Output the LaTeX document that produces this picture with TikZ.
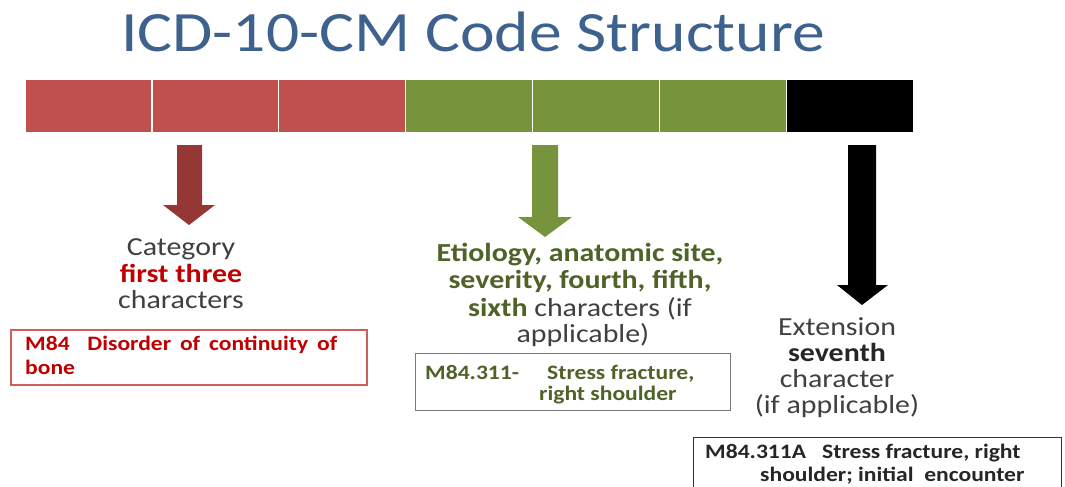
\documentclass[tikz,border=0pt]{standalone}
\usepackage{fontspec}
\setmainfont{Carlito}[FakeStretch=1.15]
\definecolor{titleblue}{RGB}{62,98,142}
\definecolor{cellred}{RGB}{192,80,77}
\definecolor{cellgreen}{RGB}{119,147,60}
\definecolor{arrowred}{RGB}{149,55,53}
\definecolor{txtgray}{RGB}{64,64,64}
\definecolor{txtred}{RGB}{192,0,0}
\definecolor{txtgreen}{RGB}{79,98,40}
\definecolor{boxred}{RGB}{205,95,95}
\definecolor{boxgray}{RGB}{120,120,120}
\tikzset{
  cell/.style={draw=white, line width=1.2pt, minimum width=126.9pt, minimum height=53pt, inner sep=0pt, outer sep=0pt},
  big/.style={anchor=base, inner sep=0pt, font=\fontsize{26}{27}\selectfont},
  small/.style={anchor=base west, inner sep=0pt, font=\fontsize{20.5}{22}\selectfont\bfseries},
}
\begin{document}
\begin{tikzpicture}[x=1pt,y=-1pt]
\useasboundingbox (0,0) rectangle (1065,487);
\fill[white] (0,0) rectangle (1065,487);
% title
\node[anchor=base, inner sep=0pt, text=titleblue, font=\fontsize{57}{60}\selectfont] (title) at (473,52) {ICD-10-CM Code Structure};
% bar cells
\foreach \i/\c in {1/cellred,2/cellred,3/cellred,4/cellgreen,5/cellgreen,6/cellgreen,7/black}{
  \node[cell, fill=\c] (c\i) at ({25+126.9*(\i-0.5)},106) {};
}
% block arrows
\fill[arrowred] (177,145) -- (202,145) -- (202,205) -- (215,205) -- (189,225) -- (163,205) -- (177,205) -- cycle;
\fill[cellgreen] (532,145) -- (558,145) -- (558,217) -- (572,217) -- (545,237) -- (518,217) -- (532,217) -- cycle;
\fill[black] (848,145) -- (876,145) -- (876,285) -- (888,285) -- (862,305) -- (837,285) -- (848,285) -- cycle;
% category text
\node[big, text=txtgray] (cat1) at (181,255) {Category};
\node[big, text=txtred, font=\fontsize{26}{27}\selectfont\bfseries] (cat2) at (181,282) {first three};
\node[big, text=txtgray] (cat3) at (181,308) {characters};
% etiology text
\node[big, text=txtgreen, font=\fontsize{26}{27}\selectfont\bfseries] (et1) at (580,261) {Etiology, anatomic site,};
\node[big, text=txtgreen, font=\fontsize{26}{27}\selectfont\bfseries] (et2) at (580,288) {severity, fourth, fifth,};
\node[big, text=txtgray] (et3) at (580,316) {\textcolor{txtgreen}{\bfseries sixth} characters (if};
\node[big, text=txtgray] (et4) at (583,342) {applicable)};
% extension text
\node[big, text=txtgray] (ex1) at (837,335) {Extension};
\node[big, text=black!85, font=\fontsize{26}{27}\selectfont\bfseries] (ex2) at (837,361) {seventh};
\node[big, text=txtgray] (ex3) at (837,387) {character};
\node[big, text=txtgray] (ex4) at (837,413) {(if applicable)};
% boxes
\draw[boxred, line width=1.3pt] (11,330) rectangle (367,385);
\node[small, text=txtred] (b1a) at (25,350) {\makebox[312pt][s]{M84 \ Disorder of continuity of}};
\node[small, text=txtred] (b1b) at (25,374) {bone};
\draw[boxgray, line width=1pt] (415,353) rectangle (730,410);
\node[small, text=txtgreen] (b2a) at (425,379) {M84.311-};
\node[small, text=txtgreen] (b2b) at (547,379) {Stress fracture,};
\node[small, text=txtgreen] (b2c) at (539,400) {right shoulder};
\draw[black!80, line width=1pt] (693,495) -- (693,437) -- (1061,437) -- (1061,495);
\node[small, text=black!85] (b3a) at (705,458) {M84.311A};
\node[small, text=black!85] (b3b) at (822,458) {Stress fracture, right};
\node[small, text=black!85] (b3c) at (760,481) {shoulder; initial \ encounter};
\end{tikzpicture}
\end{document}
